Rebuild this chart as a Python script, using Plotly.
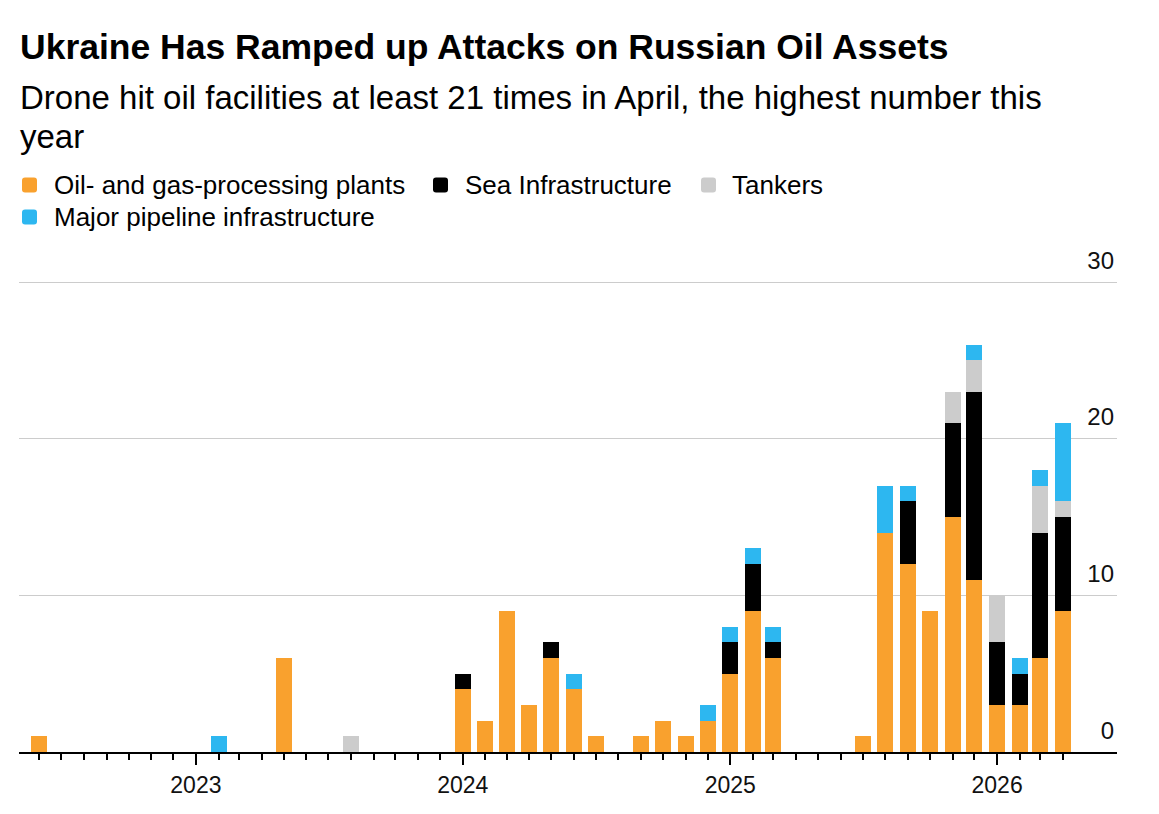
import plotly.graph_objects as go

months = [
    "2022-06-01", "2022-07-01", "2022-08-01", "2022-09-01", "2022-10-01", "2022-11-01", "2022-12-01",
    "2023-01-01", "2023-02-01", "2023-03-01", "2023-04-01", "2023-05-01", "2023-06-01",
    "2023-07-01", "2023-08-01", "2023-09-01", "2023-10-01", "2023-11-01", "2023-12-01",
    "2024-01-01", "2024-02-01", "2024-03-01", "2024-04-01", "2024-05-01", "2024-06-01",
    "2024-07-01", "2024-08-01", "2024-09-01", "2024-10-01", "2024-11-01", "2024-12-01",
    "2025-01-01", "2025-02-01", "2025-03-01", "2025-04-01", "2025-05-01", "2025-06-01",
    "2025-07-01", "2025-08-01", "2025-09-01", "2025-10-01", "2025-11-01", "2025-12-01",
    "2026-01-01", "2026-02-01", "2026-03-01", "2026-04-01",
]

oil_gas_plants = [
    1, 0, 0, 0, 0, 0, 0,
    0, 0, 0, 0, 6, 0, 0, 0, 0, 0, 0, 0,
    4, 2, 9, 3, 6, 4, 1, 0, 1, 2, 1, 2,
    5, 9, 6, 0, 0, 0, 1, 14, 12, 9, 15, 11,
    3, 3, 6, 9,
]
sea_infrastructure = [
    0, 0, 0, 0, 0, 0, 0,
    0, 0, 0, 0, 0, 0, 0, 0, 0, 0, 0, 0,
    1, 0, 0, 0, 1, 0, 0, 0, 0, 0, 0, 0,
    2, 3, 1, 0, 0, 0, 0, 0, 4, 0, 6, 12,
    4, 2, 8, 6,
]
tankers = [
    0, 0, 0, 0, 0, 0, 0,
    0, 0, 0, 0, 0, 0, 0, 1, 0, 0, 0, 0,
    0, 0, 0, 0, 0, 0, 0, 0, 0, 0, 0, 0,
    0, 0, 0, 0, 0, 0, 0, 0, 0, 0, 2, 2,
    3, 0, 3, 1,
]
pipeline = [
    0, 0, 0, 0, 0, 0, 0,
    0, 1, 0, 0, 0, 0, 0, 0, 0, 0, 0, 0,
    0, 0, 0, 0, 0, 1, 0, 0, 0, 0, 0, 1,
    1, 1, 1, 0, 0, 0, 0, 3, 1, 0, 0, 1,
    0, 1, 1, 5,
]

series_names = ["Oil- and gas-processing plants", "Sea Infrastructure", "Tankers",
                "Major pipeline infrastructure"]
colors = ["#F9A12E", "#000000", "#CCCCCC", "#2DB7F0"]
y_ticks = [0, 10, 20, 30]
year_ticks = ["2023-01-01", "2024-01-01", "2025-01-01", "2026-01-01"]

FONT = "Liberation Sans"
W, H = 1159, 814
L, R, T, B = 19, 42, 245, 62
PW, PH = W - L - R, H - T - B
Y_TOP = PH / (470 / 30)

def px(X):
    return (X - L) / PW

def py(Y):
    return (H - B - Y) / PH

bar_w = 21.9 * 86400000

fig = go.Figure()
for name, vals, col in zip(series_names, [oil_gas_plants, sea_infrastructure, tankers, pipeline], colors):
    fig.add_trace(go.Bar(x=months, y=vals, name=name, marker=dict(color=col, line=dict(width=0)),
                         width=bar_w, showlegend=False))

annotations = [
    dict(text="<b>Ukraine Has Ramped up Attacks on Russian Oil Assets</b>", x=px(18), y=py(47),
         font=dict(family=FONT, size=35.5, color="#000000")),
    dict(text="Drone hit oil facilities at least 21 times in April, the highest number this",
         x=px(18), y=py(97), font=dict(family=FONT, size=33, color="#000000")),
    dict(text="year", x=px(18), y=py(136), font=dict(family=FONT, size=33, color="#000000")),
]
legend_items = [
    (series_names[0], colors[0], 22, 185, 52),
    (series_names[1], colors[1], 433, 185, 463),
    (series_names[2], colors[2], 701, 185, 730),
    (series_names[3], colors[3], 22, 217, 52),
]
shapes = []
for name, col, sx, cy, tx in legend_items:
    annotations.append(dict(text=name, x=px(tx), y=py(cy),
                            font=dict(family=FONT, size=26, color="#000000")))
    x0, x1 = px(sx), px(sx + 15)
    y0, y1 = py(cy + 7.5), py(cy - 7.5)
    rx, ry = 3 / PW, 3 / PH
    path = (f"M {x0+rx},{y0} L {x1-rx},{y0} Q {x1},{y0} {x1},{y0+ry} L {x1},{y1-ry} "
            f"Q {x1},{y1} {x1-rx},{y1} L {x0+rx},{y1} Q {x0},{y1} {x0},{y1-ry} "
            f"L {x0},{y0+ry} Q {x0},{y0} {x0+rx},{y0} Z")
    shapes.append(dict(type="path", xref="paper", yref="paper", path=path,
                       fillcolor=col, line=dict(width=0)))

for a in annotations:
    a.update(xref="paper", yref="paper", xanchor="left", yanchor="middle", showarrow=False)

fig.update_layout(
    width=W, height=H,
    margin=dict(l=L, r=R, t=T, b=B, autoexpand=False),
    paper_bgcolor="white", plot_bgcolor="white",
    barmode="stack",
    annotations=annotations,
    shapes=shapes,
    xaxis=dict(
        type="date",
        range=["2022-05-04", "2026-06-14"],
        tickmode="array", tickvals=year_ticks, tickformat="%Y",
        ticks="outside", ticklen=11, tickwidth=1.5, tickcolor="#000000",
        showline=True, linecolor="#000000", linewidth=2,
        showgrid=False, zeroline=False,
        tickfont=dict(family=FONT, size=23, color="#111111"),
        minor=dict(tickmode="array", tickvals=months, ticks="outside", ticklen=6,
                   tickwidth=1.5, tickcolor="#000000", showgrid=False),
    ),
    yaxis=dict(
        range=[0, Y_TOP], side="right",
        tickmode="array", tickvals=y_ticks,
        ticklabelposition="inside top", ticklabelshift=-5,
        showgrid=True, gridcolor="#CCCCCC", gridwidth=1,
        zeroline=False, showline=False, ticks="",
        tickfont=dict(family=FONT, size=24, color="#111111"),
    ),
)

fig.write_html("out.html")
